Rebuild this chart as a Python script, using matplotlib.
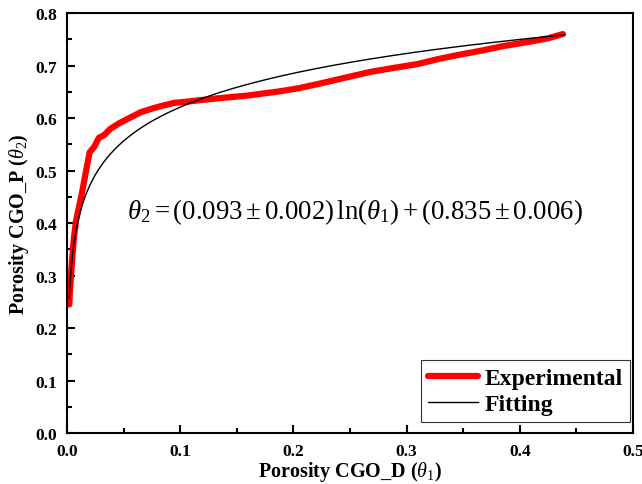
import numpy as np
import matplotlib
matplotlib.use("Agg")
import matplotlib.pyplot as plt
from matplotlib.ticker import MultipleLocator, FuncFormatter

plt.rcParams['font.family'] = ['Liberation Serif', 'DejaVu Serif']
plt.rcParams['mathtext.fontset'] = 'custom'
plt.rcParams['mathtext.rm'] = 'Liberation Serif'
plt.rcParams['mathtext.it'] = 'Liberation Serif:italic'
plt.rcParams['mathtext.bf'] = 'Liberation Serif:bold'

# Measured porosity pairs
theta1_exp = [0.002, 0.0025, 0.0035, 0.0045, 0.006, 0.008, 0.0105, 0.013, 0.016,
              0.020, 0.024, 0.028, 0.033, 0.038, 0.046, 0.055, 0.065, 0.075,
              0.085, 0.095, 0.105, 0.117, 0.135, 0.160, 0.188, 0.205, 0.224,
              0.250, 0.268, 0.290, 0.310, 0.327, 0.345, 0.365, 0.385, 0.410,
              0.425, 0.438]
theta2_exp = [0.245, 0.27, 0.30, 0.33, 0.37, 0.405, 0.43, 0.455, 0.49,
              0.535, 0.545, 0.562, 0.568, 0.579, 0.590, 0.600, 0.611, 0.618,
              0.624, 0.629, 0.631, 0.634, 0.638, 0.643, 0.651, 0.657, 0.666,
              0.679, 0.688, 0.696, 0.703, 0.712, 0.720, 0.728, 0.737, 0.746,
              0.752, 0.760]

# Logarithmic fit: theta2 = a*ln(theta1) + b
fit_a = 0.093
fit_b = 0.835
fit_range = [0.002, 0.44]

theta1_fit = np.linspace(fit_range[0], fit_range[1], 500)
theta2_fit = fit_a * np.log(theta1_fit) + fit_b

fig = plt.figure(figsize=(6.42, 4.85), dpi=100)
ax = fig.add_axes([0.1044, 0.105, 0.8816, 0.866])

ax.plot(theta1_exp, theta2_exp, color='#ff0000', lw=4.5, solid_capstyle='round',
        solid_joinstyle='round', label='Experimental')
ax.plot(theta1_fit, theta2_fit, color='black', lw=1.0, label='Fitting')

ax.set_xlim(0, 0.5)
ax.set_ylim(0, 0.8)
ax.xaxis.set_major_locator(MultipleLocator(0.1))
ax.xaxis.set_minor_locator(MultipleLocator(0.05))
ax.yaxis.set_major_locator(MultipleLocator(0.1))
ax.yaxis.set_minor_locator(MultipleLocator(0.05))
ax.xaxis.set_major_formatter(FuncFormatter(lambda v, p: f'{v:.1f}'))
ax.yaxis.set_major_formatter(FuncFormatter(lambda v, p: f'{v:.1f}'))
ax.tick_params(which='major', direction='in', length=6, width=1.5,
               labelsize=12.5, pad=7)
ax.tick_params(axis='x', which='major', pad=7.5)
ax.tick_params(which='minor', direction='in', length=3.5, width=1.5)
for lab in ax.get_xticklabels() + ax.get_yticklabels():
    lab.set_fontweight('bold')
for sp in ax.spines.values():
    sp.set_linewidth(1.5)

ax.set_xlabel(r'Porosity CGO_D ($\theta_1$)', fontsize=14.5, fontweight='bold', labelpad=0)
ax.set_ylabel(r'Porosity CGO_P ($\theta_2$)', fontsize=14.5, fontweight='bold', labelpad=3)

ax.text(0.053, 0.423,
        r'$\theta_2 = (0.093 \pm 0.002)\,\mathrm{ln}(\theta_1) + (0.835 \pm 0.006)$',
        fontsize=19.3, va='center', ha='left')

leg = ax.legend(loc='lower right', bbox_to_anchor=(0.995, 0.026),
                prop={'weight': 'bold', 'size': 17},
                frameon=True, fancybox=False, edgecolor='black', handlelength=2.1,
                borderpad=0.3, labelspacing=0.2, handletextpad=0.3,
                borderaxespad=0.0)
leg.get_frame().set_linewidth(0.8)

fig.savefig('out.png', dpi=100)
